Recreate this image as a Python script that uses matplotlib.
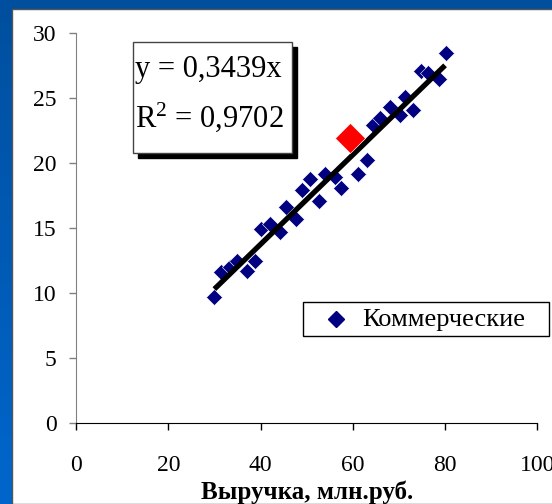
import numpy as np
import matplotlib
matplotlib.use("Agg")
import matplotlib.pyplot as plt
from matplotlib.patches import Rectangle
from matplotlib.lines import Line2D

# Data
x_comm = [30.0, 31.5, 33.3, 34.9, 37.1, 38.7, 40.2, 42.0, 44.2, 45.5,
          47.6, 48.9, 50.7, 52.6, 53.9, 56.1, 57.5, 61.2, 63.0, 64.4,
          66.0, 68.0, 70.2, 71.3, 73.1, 74.7, 76.4, 78.7, 80.2]
y_comm = [9.7, 11.6, 12.0, 12.5, 11.7, 12.5, 14.9, 15.3, 14.7, 16.6,
          15.7, 17.9, 18.8, 17.1, 19.2, 18.9, 18.1, 19.2, 20.2, 22.9,
          23.5, 24.3, 23.7, 25.1, 24.1, 27.1, 26.9, 26.5, 28.5]
x_sel, y_sel = [59.5], [21.9]

slope = 0.3439
r2 = 0.9702
fit_x = [30.0, 80.0]

xticks = [0, 20, 40, 60, 80, 100]
yticks = [0, 5, 10, 15, 20, 25, 30]
series_name = "Коммерческие"

serif = "Liberation Serif"
plt.rcParams["mathtext.fontset"] = "custom"
plt.rcParams["mathtext.rm"] = serif
plt.rcParams["mathtext.it"] = serif + ":italic"

W, H = 552, 504
fig = plt.figure(figsize=(W / 100, H / 100), dpi=100)

# blue gradient background
bg = fig.add_axes([0, 0, 1, 1], zorder=-10)
grad = np.linspace(0, 1, 256).reshape(-1, 1)
top = np.array([0.0, 0.31, 0.62])
bot = np.array([0.0, 0.40, 0.80])
img = top + (bot - top) * grad[:, :, None]
bg.imshow(img, aspect="auto", extent=[0, 1, 0, 1], origin="upper")
bg.set_axis_off()

# white panel
fig.add_artist(Rectangle((12 / W, 0), 1, (H - 9) / H, transform=fig.transFigure,
                         facecolor="white", edgecolor="#555555", lw=1, zorder=-5))

ax = fig.add_axes([76 / W, (H - 423.3) / H, 461.3 / W, 390.3 / H])
ax.set_facecolor("none")

ax.plot(x_comm, y_comm, linestyle="none", marker="D", markersize=8.5,
        color="#000080", markeredgecolor="white", markeredgewidth=0.4, zorder=3)
fit_y = [slope * v for v in fit_x]
ax.plot(fit_x, fit_y, color="black", lw=3.8, solid_capstyle="butt", zorder=4)
ax.plot(x_sel, y_sel, linestyle="none", marker="D", markersize=15,
        color="#FF0000", markeredgecolor="white", markeredgewidth=0.4, zorder=5)

ax.set_xlim(0, 100)
ax.set_ylim(0, 30)
ax.set_xticks(xticks)
ax.set_yticks(yticks)
ax.set_xticklabels([str(t) for t in xticks], fontfamily=serif, fontsize=17)
ax.set_yticklabels([str(t) for t in yticks], fontfamily=serif, fontsize=17)
ax.tick_params(axis="x", direction="out", length=5, width=1, pad=18, colors="black")
ax.tick_params(axis="y", direction="out", length=5, width=1, pad=9, color="#808080")
for s in ["top", "right"]:
    ax.spines[s].set_visible(False)
ax.spines["left"].set_color("#808080")
ax.spines["bottom"].set_color("black")

ax.set_xlabel("Выручка, млн.руб.", fontfamily=serif, fontsize=18,
              fontweight="bold", labelpad=3)

# equation box with shadow
bx0, by0, bx1, by1 = 132.7, 41.7, 291.7, 153.0
fig.add_artist(Rectangle(((bx0 + 5) / W, (H - by1 - 5) / H), (bx1 - bx0) / W, (by1 - by0) / H,
                         transform=fig.transFigure, facecolor="black", edgecolor="black", zorder=6))
fig.add_artist(Rectangle((bx0 / W, (H - by1) / H), (bx1 - bx0) / W, (by1 - by0) / H,
                         transform=fig.transFigure, facecolor="white", edgecolor="#444444",
                         lw=1, zorder=7))
line1 = "y = " + ("%.4f" % slope).replace(".", ",") + "x"
line2 = "R$^2$ = " + ("%.4f" % r2).replace(".", ",")
fig.text((bx0 + 2) / W, (H - 70) / H, line1, fontfamily=serif, fontsize=22,
         va="center", ha="left", zorder=8)
fig.text((bx0 + 2) / W, (H - 117) / H, line2, fontfamily=serif, fontsize=22,
         va="center", ha="left", zorder=8)

# legend drawn by hand (box, marker, label)
lx0, ly0, lx1, ly1 = 303, 302, 549, 336
fig.add_artist(Rectangle((lx0 / W, (H - ly1) / H), (lx1 - lx0) / W, (ly1 - ly0) / H,
                         transform=fig.transFigure, facecolor="white", edgecolor="black",
                         lw=1, zorder=6))
fig.add_artist(Line2D([336 / W], [(H - 319) / H], transform=fig.transFigure, linestyle="none",
                      marker="D", markersize=8.5, color="#000080", zorder=7))
fig.text(362 / W, (H - 320) / H, series_name, fontfamily=serif, fontsize=19,
         va="center", ha="left", zorder=7)

fig.savefig("out.png", dpi=100)
